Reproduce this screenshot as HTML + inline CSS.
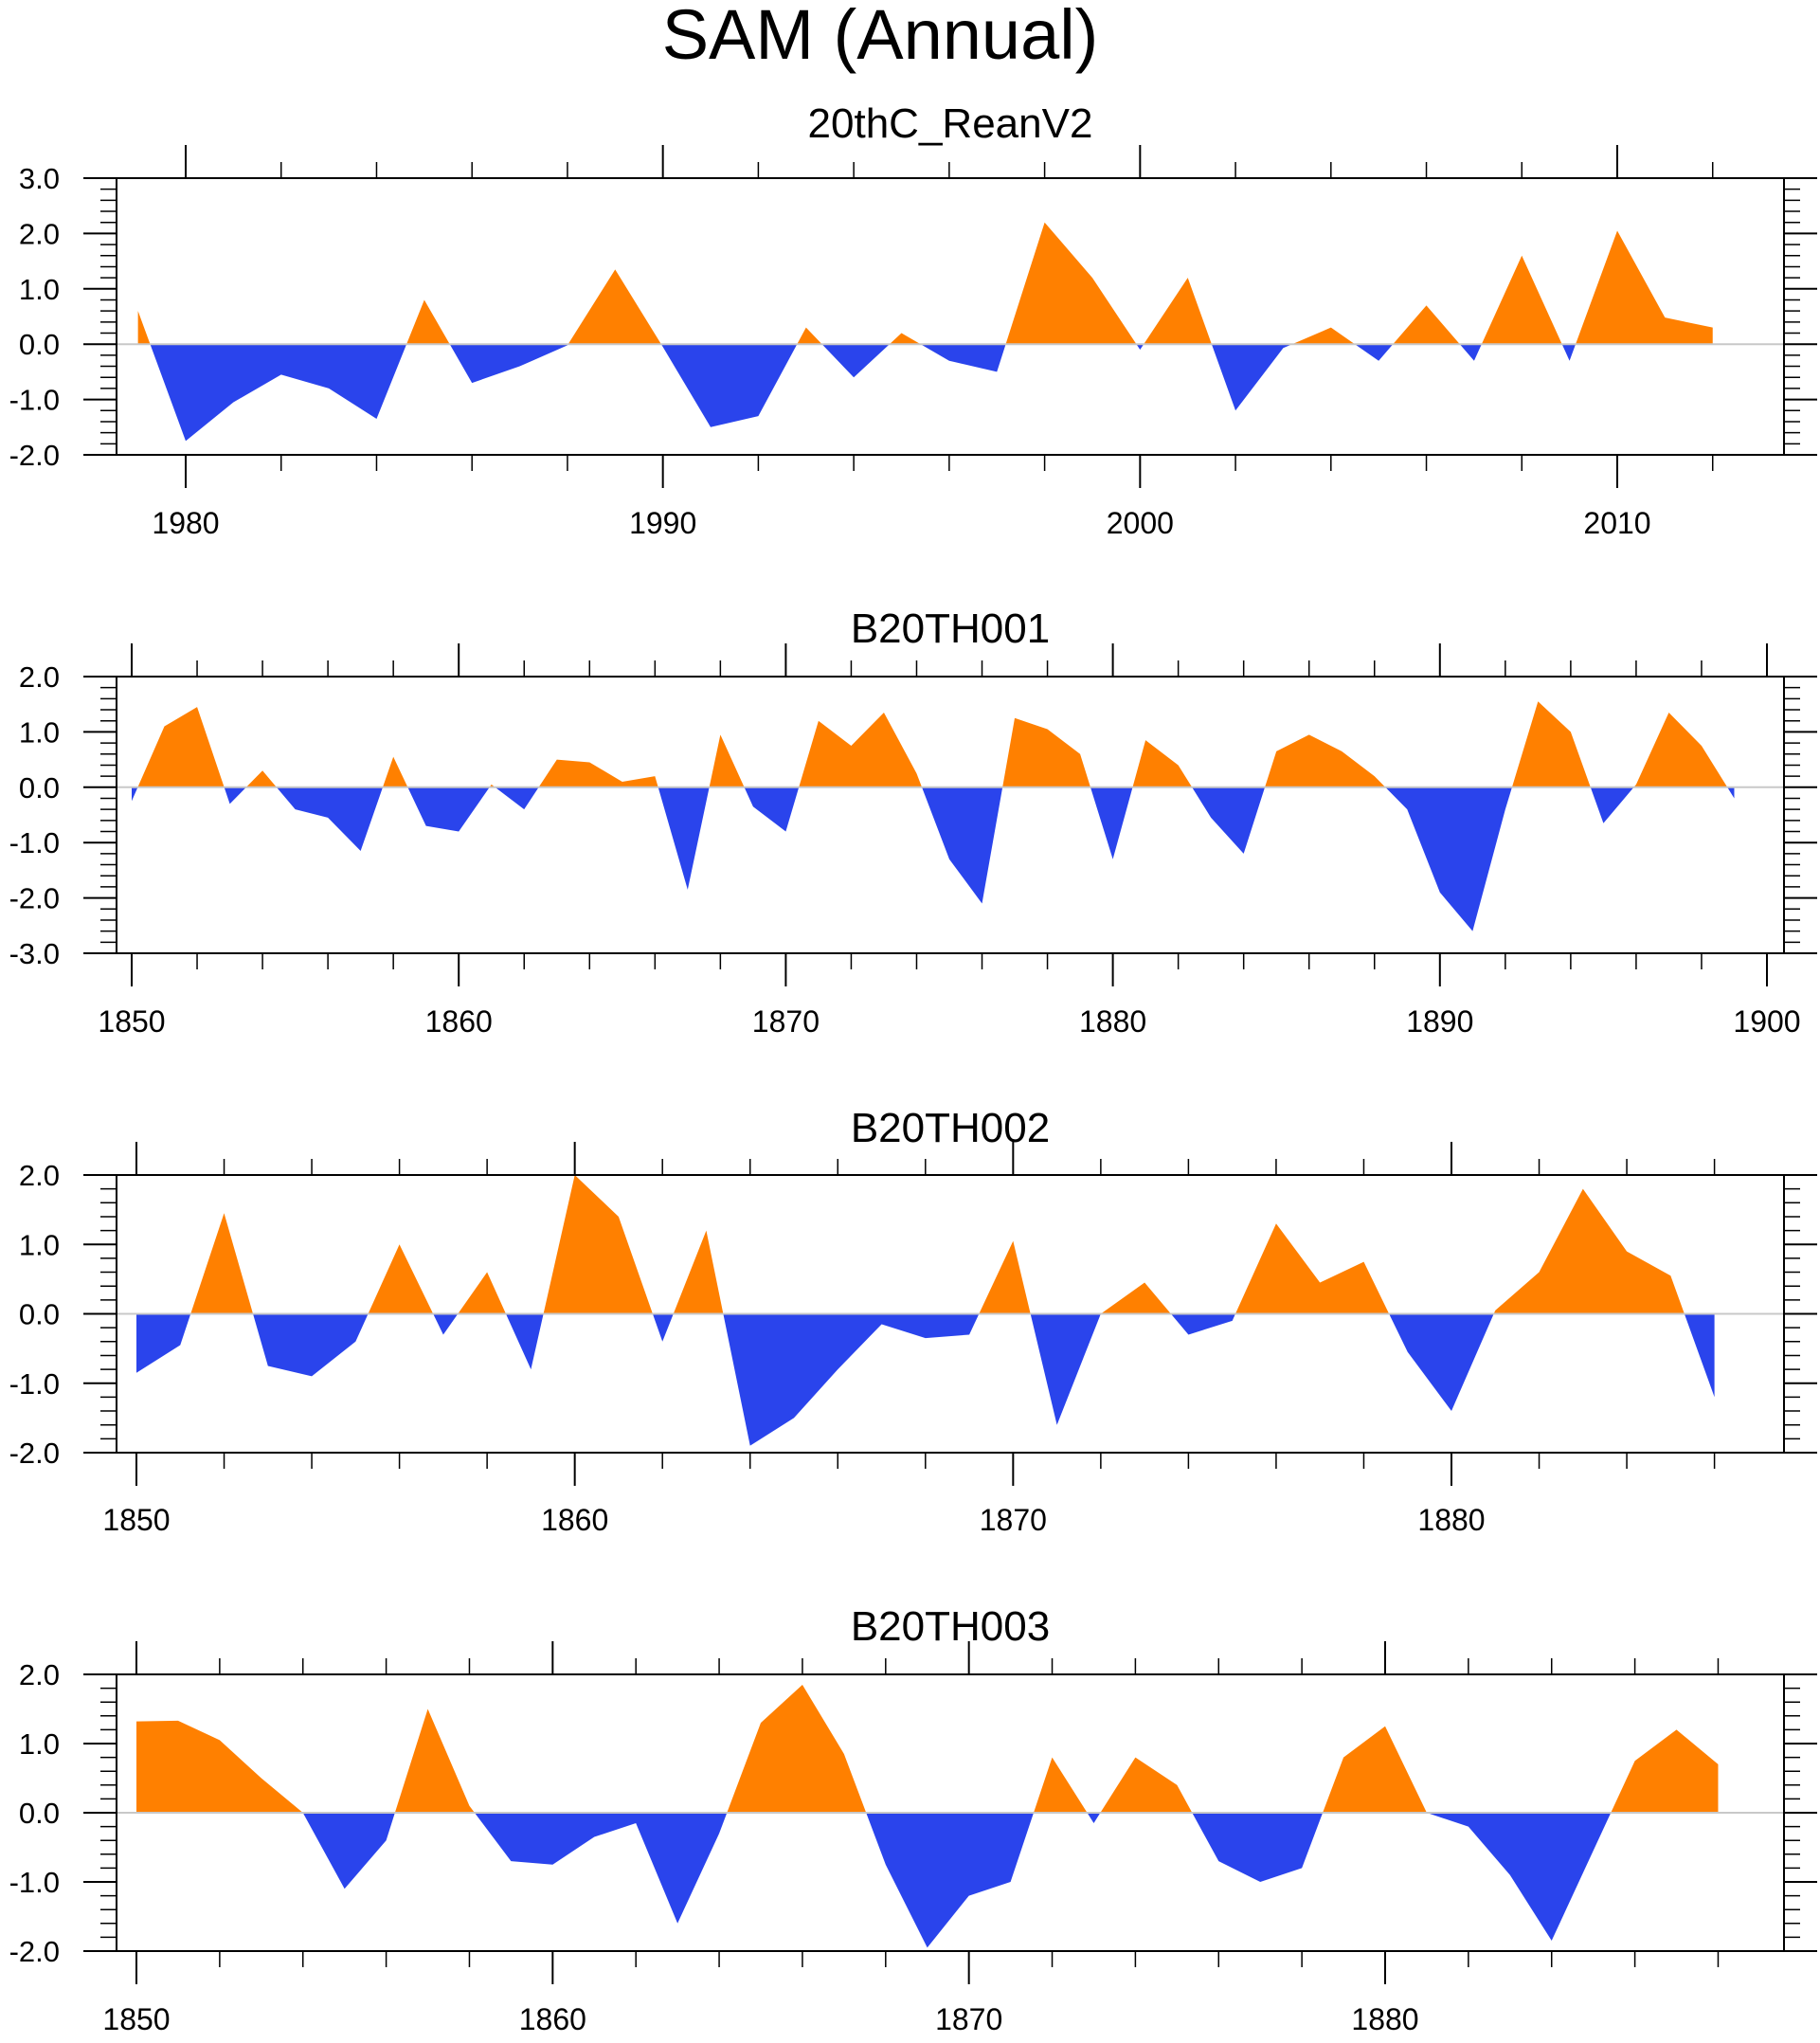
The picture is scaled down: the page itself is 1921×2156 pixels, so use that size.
<!DOCTYPE html>
<html><head><meta charset="utf-8"><style>
html,body{margin:0;padding:0;background:#fff;}
svg text{font-family:"Liberation Sans",Arial,sans-serif;fill:#000;}
</style></head>
<body>
<svg id="chart" width="1921" height="2151" viewBox="0 0 1921 2151" xmlns="http://www.w3.org/2000/svg">
<rect width="1921" height="2151" fill="#fff"/>
<text x="929" y="62" font-size="74" text-anchor="middle">SAM (Annual)</text>
</svg>
<script>
const reanYears0 = 1979;
const reanValues = [0.6,-1.75,-1.05,-0.55,-0.8,-1.35,0.8,-0.7,-0.4,-0.02,1.35,-0.05,-1.5,-1.3,0.3,-0.6,0.2,-0.3,-0.5,2.2,1.2,-0.1,1.2,-1.2,-0.07,0.3,-0.3,0.7,-0.3,1.6,-0.3,2.05,0.48,0.3];
const b001Years0 = 1850;
const b001Values = [-0.25,1.1,1.45,-0.3,0.3,-0.4,-0.55,-1.15,0.55,-0.7,-0.8,0.05,-0.4,0.5,0.45,0.1,0.2,-1.85,0.95,-0.35,-0.8,1.2,0.75,1.35,0.25,-1.3,-2.1,1.25,1.05,0.6,-1.3,0.85,0.4,-0.55,-1.2,0.65,0.95,0.65,0.2,-0.4,-1.9,-2.6,-0.4,1.55,1.0,-0.65,0.05,1.35,0.75,-0.2];
const b002Years0 = 1850;
const b002Values = [-0.85,-0.45,1.45,-0.75,-0.9,-0.4,1.0,-0.3,0.6,-0.8,2.0,1.4,-0.4,1.2,-1.9,-1.5,-0.8,-0.15,-0.35,-0.3,1.05,-1.6,0.0,0.45,-0.3,-0.1,1.3,0.45,0.75,-0.55,-1.4,0.05,0.6,1.8,0.9,0.55,-1.2];
const b003Years0 = 1850;
const b003Values = [1.32,1.33,1.05,0.5,0.0,-1.1,-0.4,1.5,0.1,-0.7,-0.75,-0.35,-0.15,-1.6,-0.3,1.3,1.85,0.85,-0.75,-1.95,-1.2,-1.0,0.8,-0.15,0.8,0.4,-0.7,-1.0,-0.8,0.8,1.25,0.0,-0.2,-0.9,-1.85,-0.55,0.75,1.2,0.7];

const NS="http://www.w3.org/2000/svg";
const svg=document.getElementById('chart');
function mk(tag,attrs,parent){const e=document.createElementNS(NS,tag);for(const k in attrs)e.setAttribute(k,attrs[k]);(parent||svg).appendChild(e);return e;}

const panels=[
 {id:'rean',title:'20thC_ReanV2',titleY:145,labelY:563,top:188,bot:480,ymin:-2,ymax:3,yA:1980,xA:196,yB:2010,xB:1707,y0:reanYears0,vals:reanValues,left:123,right:1883},
 {id:'b20th001',title:'B20TH001',titleY:678,labelY:1089,top:714,bot:1006,ymin:-3,ymax:2,yA:1850,xA:139,yB:1900,xB:1865,y0:b001Years0,vals:b001Values,left:123,right:1883},
 {id:'b20th002',title:'B20TH002',titleY:1205,labelY:1615,top:1240,bot:1533,ymin:-2,ymax:2,yA:1850,xA:144,yB:1880,xB:1532,y0:b002Years0,vals:b002Values,left:123,right:1883},
 {id:'b20th003',title:'B20TH003',titleY:1731,labelY:2142,top:1767,bot:2059,ymin:-2,ymax:2,yA:1850,xA:144,yB:1880,xB:1462,y0:b003Years0,vals:b003Values,left:123,right:1883}
];

panels.forEach((p,pi)=>{
 const g=mk('g',{});
 
 
 const xs=yr=>p.xA+(yr-p.yA)*(p.xB-p.xA)/(p.yB-p.yA);
 const ys=v=>p.bot-(v-p.ymin)*(p.bot-p.top)/(p.ymax-p.ymin);
 const zy=ys(0);
 const t=mk('text',{x:(p.left+p.right)/2,y:p.titleY,'font-size':44,'text-anchor':'middle'},g);
 t.textContent=p.title;
 
 
 const defs=mk('defs',{},g);
 const cu=mk('clipPath',{id:'cu'+pi},defs);
 mk('rect',{x:0,y:0,width:1921,height:zy},cu);
 const cd=mk('clipPath',{id:'cd'+pi},defs);
 mk('rect',{x:0,y:zy,width:1921,height:2151},cd);
 let d='M'+xs(p.y0)+','+zy;
 p.vals.forEach((v,i)=>{d+=' L'+xs(p.y0+i)+','+ys(v);});
 d+=' L'+xs(p.y0+p.vals.length-1)+','+zy+' Z';
 const pos=mk('path',{d:d,fill:'#FF8000','clip-path':'url(#cu'+pi+')'},g);
 
 
 const neg=mk('path',{d:d,fill:'#2A44EC','clip-path':'url(#cd'+pi+')'},g);
 
 
 const zl=mk('line',{x1:p.left,x2:p.right,y1:zy,y2:zy,stroke:'#c8c8c8','stroke-width':2},g);
 
 
 const box=mk('rect',{x:p.left,y:p.top,width:p.right-p.left,height:p.bot-p.top,fill:'none',stroke:'#000','stroke-width':2},g);
 
 
 const n=Math.round((p.ymax-p.ymin)*5);
 for(let k=0;k<=n;k++){
  const vv=p.ymin+k*0.2;
  const major=k%5===0;
  const L=major?35:17;
  const y=ys(vv);
  mk('line',{x1:p.left-L,x2:p.left,y1:y,y2:y,stroke:'#000','stroke-width':major?2:1.5},g);
  mk('line',{x1:p.right,x2:p.right+L,y1:y,y2:y,stroke:'#000','stroke-width':major?2:1.5},g);
  if(major){
   const lab=mk('text',{x:63,y:y+11,'font-size':31,'text-anchor':'end'},g);
   lab.textContent=(Math.round(vv)).toFixed(1);
   
   
  }
 }
 const startYr=Math.ceil((p.yA-(p.xA-p.left)*(p.yB-p.yA)/(p.xB-p.xA))/2)*2;
 for(let yr=startYr;xs(yr)<=p.right;yr+=2){
  const x=xs(yr);
  if(x<p.left)continue;
  const major=yr%10===0;
  const L=major?35:17;
  mk('line',{x1:x,x2:x,y1:p.top-L,y2:p.top,stroke:'#000','stroke-width':major?2:1.5},g);
  mk('line',{x1:x,x2:x,y1:p.bot,y2:p.bot+L,stroke:'#000','stroke-width':major?2:1.5},g);
  if(major){
   const lab=mk('text',{x:x,y:p.labelY,'font-size':32,'text-anchor':'middle'},g);
   lab.textContent=String(yr);
   
   
  }
 }
});
</script>
</body></html>
